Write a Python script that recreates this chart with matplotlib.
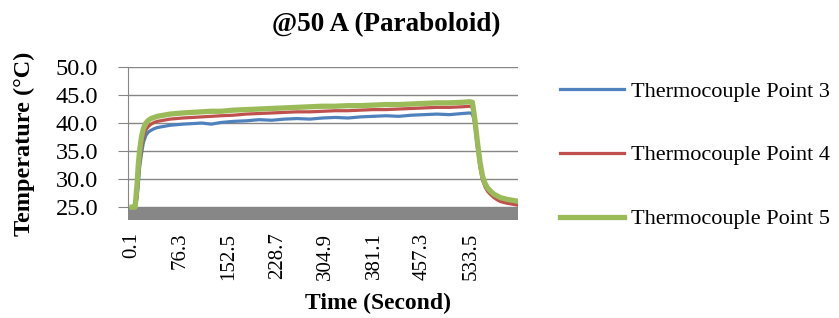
import numpy as np
import matplotlib
matplotlib.use('Agg')
import matplotlib.pyplot as plt

plt.rcParams['font.family'] = ['Liberation Serif', 'DejaVu Serif']

# time (s) and temperatures (deg C)
time = [0.1, 5, 8, 10, 12, 15, 18, 22, 26, 30, 35, 40, 50, 60, 70, 80, 95, 110,
        125, 140, 160, 180, 200, 220, 240, 260, 280, 300, 320, 340, 360, 380,
        400, 420, 440, 460, 480, 500, 520, 532, 536, 540, 544, 548, 552, 556,
        560, 565, 570, 575, 580, 590, 600, 610]

point5 = [25.0, 25.0, 29.0, 32.5, 35.0, 37.5, 39.0, 40.0, 40.5, 40.8, 41.0, 41.2,
          41.4, 41.6, 41.7, 41.8, 41.9, 42.0, 42.1, 42.1, 42.3, 42.4, 42.5, 42.6,
          42.7, 42.8, 42.9, 43.0, 43.0, 43.1, 43.1, 43.2, 43.3, 43.3, 43.4, 43.5,
          43.6, 43.6, 43.7, 43.8, 43.7, 40.5, 36.5, 33.0, 30.5, 29.2, 28.4, 27.8,
          27.3, 27.0, 26.7, 26.4, 26.2, 26.0]

point4 = [25.0, 25.0, 27.0, 30.0, 33.0, 35.5, 37.5, 38.8, 39.4, 39.8, 40.1, 40.3,
          40.5, 40.7, 40.8, 40.9, 41.0, 41.1, 41.2, 41.3, 41.4, 41.6, 41.7, 41.8,
          41.9, 42.0, 42.0, 42.1, 42.2, 42.2, 42.3, 42.4, 42.4, 42.5, 42.6, 42.7,
          42.8, 42.8, 42.9, 43.0, 42.8, 39.5, 35.5, 32.0, 29.8, 28.6, 27.8, 27.2,
          26.7, 26.3, 26.0, 25.7, 25.5, 25.3]

point3 = [25.0, 25.0, 26.5, 29.0, 32.0, 34.5, 36.5, 37.8, 38.4, 38.7, 39.0, 39.2,
          39.4, 39.6, 39.7, 39.8, 39.9, 40.0, 39.8, 40.1, 40.3, 40.4, 40.6, 40.5,
          40.7, 40.8, 40.7, 40.9, 41.0, 40.9, 41.1, 41.2, 41.3, 41.2, 41.4, 41.5,
          41.6, 41.5, 41.7, 41.8, 41.6, 40.0, 36.0, 32.5, 30.0, 28.8, 28.0, 27.4,
          26.9, 26.6, 26.3, 26.1, 25.9, 25.8]

xticks = [0.1, 76.3, 152.5, 228.7, 304.9, 381.1, 457.3, 533.5]
yticks = [25.0, 30.0, 35.0, 40.0, 45.0, 50.0]

W, H = 839, 318
fig = plt.figure(figsize=(W / 100, H / 100), dpi=100)
ax = fig.add_axes([128 / W, 1 - 220 / H, 390 / W, 153 / H])

# grey floor under the 25 line
ax.axhspan(22.7, 25.0, color='#878787', lw=0, zorder=1)

l3, = ax.plot(time, point3, color='#4F81BD', lw=2.3, zorder=3, label='Thermocouple Point 3')
l4, = ax.plot(time, point4, color='#C0504D', lw=2.3, zorder=4, label='Thermocouple Point 4')
l5, = ax.plot(time, point5, color='#9BBB59', lw=3.8, zorder=5, label='Thermocouple Point 5')

ax.set_xlim(-6.2, 607.8)
ax.set_ylim(22.7, 50)
ax.set_yticks(yticks)
ax.set_yticklabels(['%.1f' % v for v in yticks], fontsize=17.5)
ax.set_xticks(xticks)
ax.set_xticklabels(['%.1f' % v for v in xticks], rotation=90, fontsize=15)
ax.tick_params(axis='x', length=0, pad=9)
ax.tick_params(axis='y', length=7.5, color='#868686', pad=14)

ax.grid(axis='y', color='#868686', lw=1, zorder=0)
for s in ['top', 'right', 'bottom']:
    ax.spines[s].set_visible(False)
ax.spines['left'].set_color('#868686')
ax.spines['left'].set_bounds(25, 50)

fig.text(386 / W, 1 - 25 / H, '@50 A (Paraboloid)', fontsize=19.5, fontweight='bold',
         ha='center', va='center')
fig.text(378 / W, 1 - 303 / H, 'Time (Second)', fontsize=17, fontweight='bold',
         ha='center', va='center')
fig.text(24 / W, 1 - 144 / H, 'Temperature (\u00b0C)', fontsize=17.5, fontweight='bold',
         ha='center', va='center', rotation=90)

fig.legend(handles=[l3, l4, l5], loc='upper left', bbox_to_anchor=(560 / W, 1 - 81 / H),
           frameon=False, fontsize=16, handlelength=2.9, labelspacing=1.95,
           handletextpad=0.3, borderpad=0, borderaxespad=0)

plt.savefig('out.png', dpi=100)
